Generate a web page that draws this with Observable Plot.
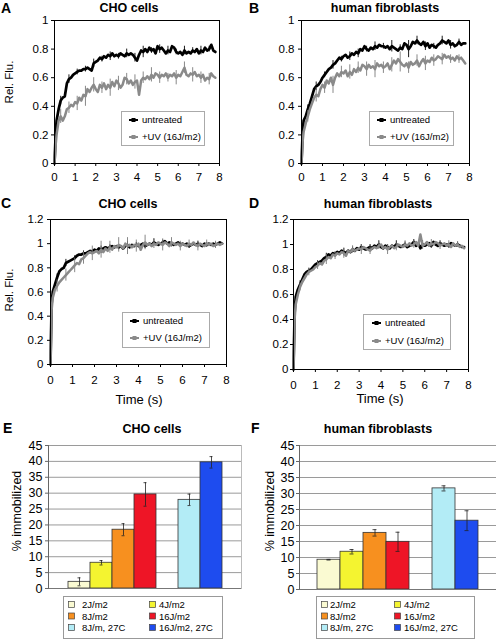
<!DOCTYPE html>
<html><head><meta charset="utf-8">
<script src="https://cdn.jsdelivr.net/npm/d3@7"></script>
<script src="https://cdn.jsdelivr.net/npm/@observablehq/plot@0.6"></script>
<style>
body{margin:0;background:#fff;}
#fig{position:relative;width:496px;height:639px;overflow:hidden;background:#fff;}
#fig svg{position:absolute;}
</style></head>
<body><div id="fig"></div>
<script>
// ---------- DATA ----------
const times = [0,0.05,0.1,0.2,0.3,0.4,0.5,0.6,0.7,0.8,0.9,
 1.0,1.1,1.2,1.3,1.4,1.5,1.6,1.7,1.8,1.9,
 2.0,2.1,2.2,2.3,2.4,2.5,2.6,2.7,2.8,2.9,
 3.0,3.1,3.2,3.3,3.4,3.5,3.6,3.7,3.8,3.9,
 4.0,4.1,4.2,4.3,4.4,4.5,4.6,4.7,4.8,4.9,
 5.0,5.1,5.2,5.3,5.4,5.5,5.6,5.7,5.8,5.9,
 6.0,6.1,6.2,6.3,6.4,6.5,6.6,6.7,6.8,6.9,
 7.0,7.1,7.2,7.3,7.4,7.5,7.6,7.7,7.8];

const choUntreated = [0,.18,.30,.38,.44,.46,.47,.56,.59,.60,.62,
 .63,.64,.65,.65,.66,.66,.67,.66,.65,.70,
 .71,.72,.74,.73,.75,.74,.76,.75,.77,.75,
 .76,.75,.77,.76,.75,.77,.76,.77,.76,.74,
 .72,.76,.79,.78,.80,.78,.81,.79,.80,.77,
 .82,.80,.81,.79,.77,.79,.78,.82,.81,.78,
 .77,.78,.76,.79,.77,.78,.77,.79,.78,.80,
 .77,.79,.78,.81,.79,.80,.83,.79,.78];
const choUV = [0,.12,.20,.30,.33,.30,.33,.38,.39,.41,.40,
 .43,.42,.46,.44,.48,.47,.52,.50,.53,.55,
 .52,.50,.55,.53,.56,.52,.55,.53,.57,.54,
 .58,.56,.53,.55,.60,.59,.56,.58,.55,.57,
 .58,.48,.58,.60,.59,.61,.59,.62,.60,.63,
 .62,.60,.62,.61,.63,.60,.62,.61,.63,.60,
 .62,.61,.64,.67,.62,.61,.63,.62,.64,.61,
 .62,.60,.62,.58,.60,.59,.63,.61,.60];
const fibUntreated = [0,.20,.30,.33,.38,.42,.47,.52,.54,.55,.57,
 .60,.62,.64,.66,.67,.69,.70,.72,.74,.73,
 .75,.76,.74,.75,.77,.76,.78,.77,.80,.79,
 .82,.80,.79,.81,.80,.82,.81,.83,.82,.82,
 .81,.82,.80,.82,.81,.80,.79,.81,.80,.84,
 .83,.80,.82,.85,.84,.86,.84,.83,.85,.82,
 .84,.81,.83,.82,.81,.83,.84,.86,.85,.84,
 .86,.83,.84,.82,.83,.85,.83,.84,.84];
const fibUV = [0,.15,.22,.28,.33,.38,.42,.46,.48,.47,.52,
 .55,.53,.58,.56,.60,.55,.60,.63,.61,.64,
 .63,.65,.61,.64,.62,.66,.64,.67,.65,.69,
 .68,.66,.69,.67,.68,.66,.70,.68,.69,.67,
 .68,.70,.66,.69,.72,.70,.73,.71,.69,.68,
 .70,.67,.71,.69,.70,.72,.68,.71,.73,.70,
 .72,.71,.74,.72,.73,.75,.74,.73,.76,.74,
 .75,.73,.74,.72,.75,.73,.74,.72,.70];
const choNormUntreated = [0,.50,.60,.66,.72,.77,.79,.80,.84,.85,.86,
 .87,.88,.90,.91,.91,.92,.92,.93,.94,.93,
 .95,.94,.96,.95,.96,.97,.96,.97,.98,.97,
 .98,.97,.98,.96,.98,.99,.97,.99,.98,.99,
 .98,.99,1.0,.98,.99,1.0,.99,1.01,1.0,.99,
 1.0,1.01,1.02,1.0,1.01,1.0,.99,1.0,1.01,.99,
 1.0,.99,1.0,.98,.99,1.0,.99,1.0,.99,.98,
 1.0,.99,1.0,.99,1.0,.99,1.0,1.01,1.0];
const choNormUV = [0,.45,.55,.62,.65,.68,.70,.72,.74,.76,.78,
 .80,.82,.84,.83,.87,.88,.90,.92,.93,.92,
 .93,.94,.92,.95,.93,.96,.94,.97,.95,.98,
 .97,.99,.98,.96,1.0,.98,.99,.97,.99,.98,
 1.0,.95,.99,1.01,.99,1.0,.98,1.0,.99,1.01,
 1.0,.99,1.01,1.0,.98,1.01,1.0,.99,1.0,.98,
 1.0,.99,.98,1.0,.99,1.01,.99,.98,1.0,.99,
 .98,1.0,.99,1.0,.98,.99,1.0,.99,1.0];
const fibNormUntreated = [0,.45,.58,.64,.68,.72,.76,.78,.79,.80,.82,
 .84,.85,.86,.87,.89,.90,.92,.91,.93,.92,
 .94,.93,.95,.94,.93,.95,.94,.96,.95,.97,
 .96,.98,.97,.96,.97,.98,.97,.99,.98,1.0,
 .98,.97,.99,.98,.97,.99,.98,1.0,.99,.98,
 .99,1.0,.98,.99,1.0,1.02,.99,1.01,.97,1.0,
 .99,1.0,1.01,.99,1.02,1.0,.99,1.01,1.0,.99,
 1.0,.99,1.01,1.0,.99,1.0,.99,.98,.98];
const fibNormUV = [0,.40,.52,.60,.66,.70,.73,.76,.78,.79,.80,
 .82,.83,.85,.84,.87,.88,.90,.89,.92,.91,
 .93,.92,.94,.93,.91,.95,.94,.96,.95,.96,
 .97,.96,.98,.97,.96,.95,.97,.98,.97,.99,
 1.0,.97,.98,.96,.98,.99,.97,.98,1.0,.99,
 .98,1.0,.99,1.01,.99,1.0,1.02,.99,1.08,.99,
 1.0,1.02,.99,1.01,1.0,1.02,1.01,.99,1.0,1.01,
 .99,1.0,.98,1.01,.99,1.0,.98,.99,.97];

// error bars at every 4th sample
const errChoUntreated = [0,.03,.03,.02,.02,.03,.02,.03,.02,.03,.03,.04,.02,.03,.03,.02,.03,.02,.03,.02];
const errChoUV        = [0,.05,.04,.05,.07,.05,.04,.06,.05,.04,.05,.04,.05,.04,.03,.05,.04,.05,.04,.04];
const errFibUntreated = [0,.03,.03,.02,.03,.02,.03,.03,.02,.03,.02,.04,.02,.06,.03,.03,.02,.03,.03,.02];
const errFibUV        = [0,.04,.05,.04,.06,.04,.05,.04,.05,.06,.04,.05,.07,.04,.04,.05,.04,.04,.03,.03];
const errChoNormUntreated = [0,.03,.03,.02,.02,.02,.03,.02,.02,.03,.02,.02,.03,.02,.02,.02,.02,.02,.02,.02];
const errChoNormUV        = [0,.05,.05,.06,.05,.06,.07,.05,.06,.07,.05,.06,.04,.05,.04,.04,.03,.04,.03,.03];
const errFibNormUntreated = [0,.03,.02,.02,.03,.02,.03,.02,.02,.02,.03,.02,.03,.02,.02,.03,.02,.02,.02,.02];
const errFibNormUV        = [0,.03,.03,.03,.04,.03,.04,.03,.04,.03,.03,.04,.03,.03,.03,.03,.03,.03,.03,.02];

const xTicks = [0,1,2,3,4,5,6,7,8];
const yTicksAB = [0,0.2,0.4,0.6,0.8,1];
const yTicksCD = [0,0.2,0.4,0.6,0.8,1,1.2];
const lineSeriesNames = ["untreated","+UV (16J/m2)"];

const barCats = ["2J/m2","4J/m2","8J/m2","16J/m2","8J/m, 27C","16J/m2, 27C"];
const barSlots = ["2J/m2","4J/m2","8J/m2","16J/m2","gap","8J/m, 27C","16J/m2, 27C"];
const barColors = ["#fafad2","#f4f430","#f7901f","#ee1526","#b3ecf6","#1e4cef"];
const choImmob = [2.1,8.1,18.5,29.6,27.9,39.7];
const choImmobErr = [1.25,0.7,1.9,3.7,1.8,1.8];
const fibImmob = [9.3,11.8,17.7,14.9,31.6,21.5];
const fibImmobErr = [0.1,0.7,1.0,3.0,0.8,3.1];
const barTicks = [0,5,10,15,20,25,30,35,40,45];

// ---------- DRAW ----------
const FONT = '"Liberation Sans", Arial, Helvetica, sans-serif';
const fig = document.getElementById("fig");

function linePanel(p) {
  const mk = arr => times.map((t, i) => ({t, v: arr[i]})).filter(d => d.v !== undefined);
  const mkErr = (arr, err) => err.map((e, i) => ({t: times[i*4], lo: arr[i*4]-e, hi: arr[i*4]+e})).filter(d => d.t !== undefined);
  const svg = Plot.plot({
    width: p.width, height: p.height,
    marginLeft: p.mL, marginRight: p.mR, marginTop: p.mT, marginBottom: p.mB,
    style: {fontFamily: FONT, fontSize: "11.5px", color: "#000", background: "transparent", overflow: "visible"},
    x: {domain: [0, 8], label: null},
    y: {domain: p.ydomain, label: null},
    marks: [
      Plot.ruleX(mkErr(p.black, p.errBlack), {x: "t", y1: "lo", y2: "hi", stroke: "#000", strokeWidth: 0.9}),
      Plot.line(mk(p.black), {x: "t", y: "v", stroke: "#000", strokeWidth: 2.7}),
      Plot.ruleX(mkErr(p.gray, p.errGray), {x: "t", y1: "lo", y2: "hi", stroke: "#7a7a7a", strokeWidth: 0.9}),
      Plot.line(mk(p.gray), {x: "t", y: "v", stroke: "#8a8a8a", strokeWidth: 2.5}),
      Plot.frame({stroke: "#000", strokeWidth: 1}),
      Plot.axisX({ticks: xTicks, tickSize: 3, tickPadding: p.xPad, label: null}),
      Plot.axisY({ticks: p.yticks, tickSize: 3, tickPadding: p.yPad, tickFormat: d => String(d), label: null})
    ]
  });
  svg.style.left = p.left + "px"; svg.style.top = p.top + "px";
  fig.appendChild(svg);
}

function barPanel(p) {
  const rows = barCats.map((c, i) => ({cat: c, v: p.vals[i], lo: p.vals[i] - p.errs[i], hi: p.vals[i] + p.errs[i]}));
  const svg = Plot.plot({
    width: p.width, height: p.height,
    marginLeft: p.mL, marginRight: p.mR, marginTop: p.mT, marginBottom: p.mB,
    style: {fontFamily: FONT, fontSize: "12.5px", color: "#000", background: "transparent", overflow: "visible"},
    x: {domain: barSlots, paddingInner: 0, paddingOuter: p.pad, axis: null},
    y: {domain: [0, 45], label: null},
    color: {domain: barCats, range: barColors},
    marks: [
      Plot.gridY(barTicks, {stroke: "#9a9a9a", strokeOpacity: 1, strokeWidth: 1}),
      Plot.frame({anchor: "right", stroke: "#bbb"}),
      Plot.barY(rows, {x: "cat", y: "v", fill: "cat", stroke: "#333", strokeWidth: 0.8}),
      Plot.ruleX(rows, {x: "cat", y1: "lo", y2: "hi", stroke: "#222", strokeWidth: 0.8}),
      Plot.tickY(rows, {x: "cat", y: "lo", stroke: "#222", strokeWidth: 0.8, insetLeft: 9.5, insetRight: 9.5}),
      Plot.tickY(rows, {x: "cat", y: "hi", stroke: "#222", strokeWidth: 0.8, insetLeft: 9.5, insetRight: 9.5}),
      Plot.ruleY([0], {stroke: "#777"}),
      Plot.frame({anchor: "left", stroke: "#666"}),
      Plot.axisY({ticks: barTicks, tickSize: 3, tickPadding: p.yPad, label: null, stroke: "#666"})
    ]
  });
  svg.style.left = p.left + "px"; svg.style.top = p.top + "px";
  fig.appendChild(svg);
}

linePanel({left: 0, top: 0, width: 240, height: 195, mL: 54, mR: 21, mT: 20, mB: 32,
  ydomain: [0, 1], yticks: yTicksAB, black: choUntreated, gray: choUV,
  errBlack: errChoUntreated, errGray: errChoUV, xPad: 6, yPad: 3});
linePanel({left: 246, top: 0, width: 250, height: 195, mL: 55, mR: 27, mT: 20, mB: 32,
  ydomain: [0, 1], yticks: yTicksAB, black: fibUntreated, gray: fibUV,
  errBlack: errFibUntreated, errGray: errFibUV, xPad: 6, yPad: 4});
linePanel({left: 0, top: 195, width: 240, height: 195, mL: 50, mR: 14, mT: 24, mB: 26,
  ydomain: [0, 1.2], yticks: yTicksCD, black: choNormUntreated, gray: choNormUV,
  errBlack: errChoNormUntreated, errGray: errChoNormUV, xPad: 8, yPad: 4});
linePanel({left: 246, top: 195, width: 250, height: 195, mL: 47, mR: 28, mT: 24, mB: 21,
  ydomain: [0, 1.2], yticks: yTicksCD, black: fibNormUntreated, gray: fibNormUV,
  errBlack: errFibNormUntreated, errGray: errFibNormUV, xPad: 8, yPad: 2});

barPanel({left: 0, top: 435, width: 246, height: 160, mL: 48, mR: 5, mT: 10, mB: 7,
  vals: choImmob, errs: choImmobErr, pad: 0.75, yPad: 3});
barPanel({left: 246, top: 435, width: 250, height: 160, mL: 53, mR: 0, mT: 10, mB: 6,
  vals: fibImmob, errs: fibImmobErr, pad: 0.76, yPad: 2});

// ---------- OVERLAY: titles, labels, legends ----------
const ov = d3.select(fig).append("svg").attr("width", 496).attr("height", 639)
  .style("left", "0px").style("top", "0px").style("font-family", FONT);

function txt(x, y, s, opt = {}) {
  const t = ov.append("text").attr("x", x).attr("y", y).text(s)
    .attr("font-size", opt.size || 11).attr("text-anchor", opt.anchor || "start")
    .attr("font-weight", opt.bold ? "bold" : "normal").attr("fill", "#000");
  if (opt.rotate) t.attr("transform", `rotate(-90,${x},${y})`).attr("dominant-baseline", "middle");
  return t;
}
// panel letters & titles
[["A", 1, 13], ["B", 249, 13], ["C", 1, 208], ["D", 249, 208], ["E", 3, 433], ["F", 251, 433]]
  .forEach(([s, x, y]) => txt(x, y, s, {size: 14, bold: true}));
[["CHO cells", 129, 12], ["human fibroblasts", 385, 12], ["CHO cells", 128, 208], ["human fibroblasts", 378, 208],
 ["CHO cells", 152, 433], ["human fibroblasts", 378, 433]]
  .forEach(([s, x, y]) => txt(x, y, s, {size: 12.5, bold: true, anchor: "middle"}));
// axis titles
txt(10, 82, "Rel. Flu.", {size: 11.5, anchor: "middle", rotate: true});
txt(10, 290, "Rel. Flu.", {size: 11.5, anchor: "middle", rotate: true});
txt(139, 404, "Time (s)", {size: 13, anchor: "middle"});
txt(380, 403, "Time (s)", {size: 13, anchor: "middle"});
txt(18, 511, "% immobilized", {size: 12.5, anchor: "middle", rotate: true});
txt(271, 511, "% immobilized", {size: 12.5, anchor: "middle", rotate: true});

// line legends
function lineLegend(x, y, w, h, sx, tx, r1, r2) {
  ov.append("rect").attr("x", x + 0.5).attr("y", y + 0.5).attr("width", w).attr("height", h)
    .attr("fill", "#fff").attr("stroke", "#aaa");
  [["#000", r1, lineSeriesNames[0]], ["#8a8a8a", r2, lineSeriesNames[1]]].forEach(([c, ry, name]) => {
    ov.append("line").attr("x1", x + sx).attr("x2", x + sx + 9).attr("y1", y + ry).attr("y2", y + ry)
      .attr("stroke", c).attr("stroke-width", 2);
    ov.append("rect").attr("x", x + sx + 2.5).attr("y", y + ry - 2).attr("width", 4).attr("height", 4).attr("fill", c);
    txt(x + tx, y + ry + 3.3, name, {size: 9.5});
  });
}
lineLegend(121, 111, 83, 34, 8, 21, 9, 26);
lineLegend(369, 111, 84, 34, 8, 21, 9, 26);
lineLegend(122, 312, 87, 35, 8, 21, 9, 26);
lineLegend(363, 314, 87, 35, 9, 22, 9, 27);

// bar legends
function barLegend(x, y, w, h, c1s, c1t, c2s, c2t, rows) {
  ov.append("rect").attr("x", x + 0.5).attr("y", y + 0.5).attr("width", w).attr("height", h)
    .attr("fill", "#fff").attr("stroke", "#999");
  barCats.forEach((c, i) => {
    const col = i % 2, row = Math.floor(i / 2);
    const sx = x + (col ? c2s : c1s), ty = y + rows[row];
    ov.append("rect").attr("x", sx + 0.5).attr("y", ty - 3.5).attr("width", 6).attr("height", 6)
      .attr("fill", barColors[i]).attr("stroke", "#444").attr("stroke-width", 0.7);
    txt(x + (col ? c2t : c1t), ty + 3.4, c, {size: 9.5});
  });
}
barLegend(63, 596, 159, 42, 5, 19, 86, 96, [9, 20.5, 32]);
barLegend(316, 596, 158, 42, 5, 14, 78, 88, [9, 20.5, 32]);
</script></body></html>
